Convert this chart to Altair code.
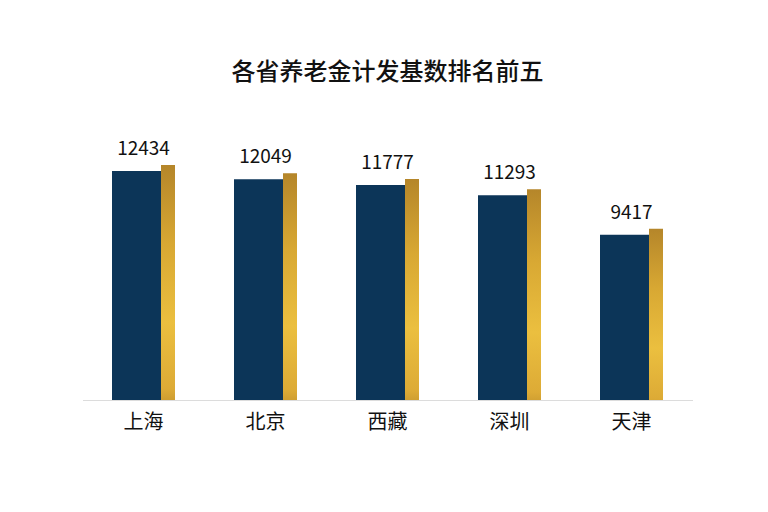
import altair as alt
import pandas as pd

# top five provinces by pension base
provinces = ["上海", "北京", "西藏", "深圳", "天津"]
values = [12434, 12049, 11777, 11293, 9417]

FONT = "Noto Sans CJK SC"
NAVY = "#0c3558"
H = 300

df = pd.DataFrame({"province": provinces, "value": values})

gold = alt.Gradient(
    gradient="linear",
    x1=0, y1=0, x2=0, y2=1,
    stops=[
        alt.GradientStop(color="#b5862a", offset=0),
        alt.GradientStop(color="#d8a833", offset=0.3),
        alt.GradientStop(color="#ebbf3f", offset=0.6),
        alt.GradientStop(color="#ddab36", offset=0.85),
        alt.GradientStop(color="#a97c25", offset=1),
    ],
)

base = alt.Chart(df).encode(
    x=alt.X(
        "province:N",
        sort=provinces,
        scale=alt.Scale(paddingInner=0, paddingOuter=0),
        axis=alt.Axis(
            title=None, labelAngle=0, ticks=False,
            domainColor="#dcdcdc", domainWidth=1.2,
            labelFont=FONT, labelFontSize=20, labelColor="#111111",
            labelPadding=12, zindex=1,
        ),
    ),
    y=alt.Y(
        "value:Q",
        scale=alt.Scale(domain=[1600, 15800], zero=False, nice=False),
        axis=None,
    ),
)

# bars are clipped at the plot floor since the scale does not start at zero
navy_bar = base.mark_bar(width=49, xOffset=-7, color=NAVY, clip=True)
gold_bar = base.mark_bar(width=14, xOffset=24.5, yOffset=-6, color=gold, clip=True)
labels = base.mark_text(
    font=FONT, fontSize=19, color="#111111", baseline="alphabetic", dy=-16
).encode(text="value:Q")

chart = (navy_bar + gold_bar + labels).properties(
    width=610,
    height=H,
    title=alt.TitleParams(
        "各省养老金计发基数排名前五",
        font=FONT, fontSize=24, fontWeight=500, color="#111111",
        anchor="middle", offset=15,
    ),
    autosize=alt.AutoSizeParams(type="none"),
    padding={"left": 74.5, "top": 92, "right": 67.5, "bottom": 104},
    background="white",
).configure_view(strokeWidth=0)

chart.save("out.html", embed_options={"renderer": "svg", "actions": False})
